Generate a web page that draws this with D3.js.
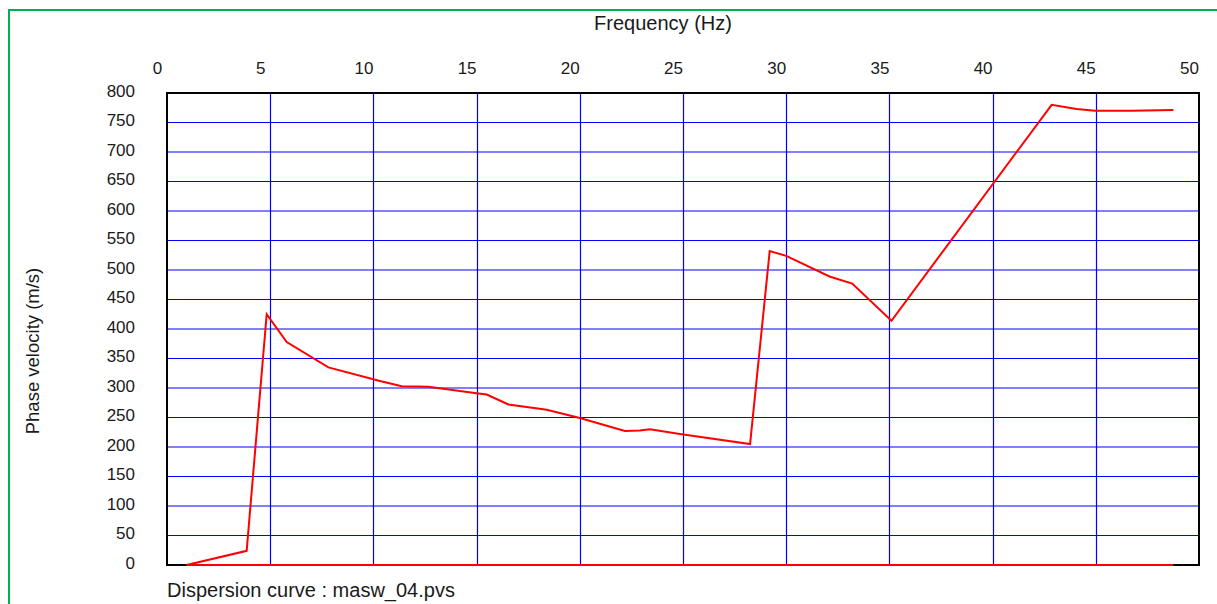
<!DOCTYPE html>
<html>
<head>
<meta charset="utf-8">
<script src="https://cdn.jsdelivr.net/npm/d3@7"></script>
<style>
  body { margin: 0; background: #fff; }
  text { font-family: 'Liberation Sans', Arial, sans-serif; fill: #1a1a1a; }
</style>
</head>
<body>
<div id="chart"></div>
<script>
// dispersion curve
var freq = [0.95, 3.86, 4.83, 5.8, 7.82, 10.32, 11.37, 12.66, 15.0, 15.49, 16.54, 18.4, 20.0, 22.19, 22.9, 23.4, 24.85, 28.25, 29.2, 30.0, 32.1, 33.2, 35.1, 42.86, 44.07, 44.96, 46.74, 48.76]
var velocity = [0, 24, 425, 378, 335, 312, 303, 302, 291, 289, 272, 263, 249, 227, 228, 230, 222, 205, 532, 524, 489, 477, 414, 780, 773, 770, 770, 771]

var xTicks = [0, 5, 10, 15, 20, 25, 30, 35, 40, 45, 50]
var yTicks = [0, 50, 100, 150, 200, 250, 300, 350, 400, 450, 500, 550, 600, 650, 700, 750, 800]

var width = 1217
var height = 604
var margin = { top: 93, left: 167, right: 18, bottom: 39 }

var svg = d3
  .select('#chart')
  .append('svg')
  .attr('width', width)
  .attr('height', height)

// green frame around the whole thing
svg
  .append('rect')
  .attr('x', 9)
  .attr('y', 10)
  .attr('width', width + 20)
  .attr('height', height + 20)
  .attr('fill', 'none')
  .attr('stroke', '#00b050')
  .attr('stroke-width', 2)

var xScale = d3
  .scaleLinear()
  .domain([0, 50])
  .range([margin.left, width - margin.right])

var yScale = d3
  .scaleLinear()
  .domain([0, 800])
  .range([height - margin.bottom, margin.top])

// grid
svg
  .selectAll('.vgrid')
  .data(xTicks.slice(1, -1))
  .enter()
  .append('line')
  .attr('class', 'vgrid')
  .attr('x1', d => Math.round(xScale(d)) + 0.5)
  .attr('x2', d => Math.round(xScale(d)) + 0.5)
  .attr('y1', yScale(800))
  .attr('y2', yScale(0))
  .attr('stroke', '#0000ff')
  .attr('stroke-width', 1.2)

svg
  .selectAll('.hgrid')
  .data(yTicks.slice(1, -1))
  .enter()
  .append('line')
  .attr('class', 'hgrid')
  .attr('x1', xScale(0))
  .attr('x2', xScale(50))
  .attr('y1', d => yScale(d))
  .attr('y2', d => yScale(d))
  .attr('stroke', '#0000ff')
  .attr('stroke-width', 1.2)

// plot frame
svg
  .append('rect')
  .attr('x', xScale(0))
  .attr('y', yScale(800))
  .attr('width', xScale(50) - xScale(0))
  .attr('height', yScale(0) - yScale(800))
  .attr('fill', 'none')
  .attr('stroke', '#000')
  .attr('stroke-width', 2)

// axis labels (top x axis, left y axis)
var xAxis = d3.axisTop(xScale).tickValues(xTicks).tickSize(0).tickPadding(0)
var xg = svg
  .append('g')
  .attr('transform', 'translate(0,' + 68 + ')')
  .call(xAxis)
xg.select('.domain').remove()
xg.selectAll('text')
  .attr('font-size', 17)
  .attr('dx', -10)
  .attr('dy', '0.35em')
  .attr('fill', '#1a1a1a')

var yAxis = d3.axisLeft(yScale).tickValues(yTicks).tickSize(0).tickPadding(0)
var yg = svg
  .append('g')
  .attr('transform', 'translate(' + 135 + ',0)')
  .call(yAxis)
yg.select('.domain').remove()
yg.selectAll('text')
  .attr('font-size', 17)
  .attr('dy', '0.2em')
  .attr('fill', '#1a1a1a')

// curve
var points = freq.map((f, i) => ({ f: f, v: velocity[i] }))

var line = d3
  .line()
  .x(d => xScale(d.f))
  .y(d => yScale(d.v))

svg
  .append('path')
  .datum(points)
  .attr('d', line)
  .attr('fill', 'none')
  .attr('stroke', '#ff0000')
  .attr('stroke-width', 2)

// baseline under the curve
svg
  .append('path')
  .datum([{ f: freq[0], v: 0 }, { f: freq[freq.length - 1], v: 0 }])
  .attr('d', line)
  .attr('fill', 'none')
  .attr('stroke', '#ff0000')
  .attr('stroke-width', 2)

// titles
svg
  .append('text')
  .text('Frequency (Hz)')
  .attr('x', 663)
  .attr('y', 30)
  .attr('font-size', 20)
  .attr('text-anchor', 'middle')

svg
  .append('text')
  .text('Phase velocity (m/s)')
  .attr('transform', 'translate(39,351) rotate(-90)')
  .attr('font-size', 18.5)
  .attr('text-anchor', 'middle')

svg
  .append('text')
  .text('Dispersion curve : masw_04.pvs')
  .attr('x', 167)
  .attr('y', 597)
  .attr('font-size', 20)
</script>
</body>
</html>
